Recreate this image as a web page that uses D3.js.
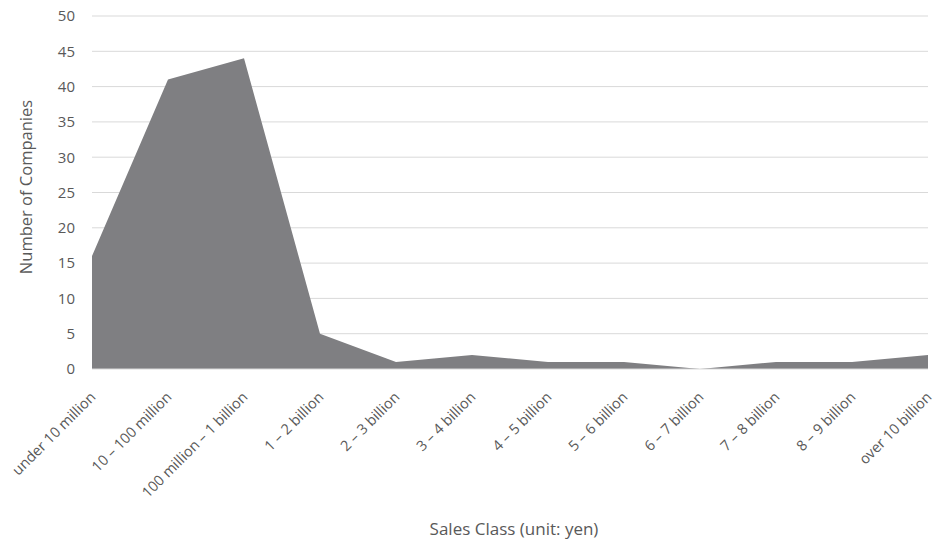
<!DOCTYPE html>
<html><head><meta charset="utf-8">
<script src="https://cdn.jsdelivr.net/npm/d3@7"></script>
<style>body{margin:0;background:#fff;} svg{display:block;}</style>
</head><body>
<svg id="c" width="934" height="543"></svg>
<script>
const categories = ["under 10 million","10 – 100 million","100 million – 1 billion","1 – 2 billion","2 – 3 billion","3 – 4 billion","4 – 5 billion","5 – 6 billion","6 – 7 billion","7 – 8 billion","8 – 9 billion","over 10 billion"];
const companies = [16, 41, 44, 5, 1, 2, 1, 1, 0, 1, 1, 2];
const yTicks = [0,5,10,15,20,25,30,35,40,45,50];
const xTitle = "Sales Class (unit: yen)";
const yTitle = "Number of Companies";

const svg = d3.select("#c");
const m = {left: 92, right: 6, top: 16, bottom: 174};
const W = 934, H = 543;
const x = d3.scalePoint().domain(categories).range([m.left, W - m.right]);
const y = d3.scaleLinear().domain([0, 50]).range([H - m.bottom, m.top]);
const font = "'Open Sans', 'Liberation Sans', sans-serif";

// gridlines
svg.append("g").selectAll("line").data(yTicks.filter(d => d > 0)).join("line")
  .attr("x1", m.left).attr("x2", W - m.right)
  .attr("y1", d => y(d)).attr("y2", d => y(d))
  .attr("stroke", "#d9d9d9").attr("stroke-width", 1);

// area
const area = d3.area().x((d, i) => x(categories[i])).y0(y(0)).y1(d => y(d));
svg.append("path").datum(companies).attr("d", area).attr("fill", "#7f7f82");

// baseline
svg.append("line").attr("x1", m.left).attr("x2", W - m.right)
  .attr("y1", y(0)).attr("y2", y(0)).attr("stroke", "#d9d9d9").attr("stroke-width", 1);

// y axis
const yAxis = d3.axisLeft(y).tickValues(yTicks).tickSize(0).tickPadding(0);
const gy = svg.append("g").attr("transform", `translate(75,0)`).call(yAxis);
gy.select(".domain").remove();
gy.selectAll("text").attr("font-family", font).attr("font-size", 15).attr("fill", "#595959")
  .attr("text-anchor", "end");

// x axis
const xAxis = d3.axisBottom(x).tickSize(0).tickPadding(0);
const gx = svg.append("g").attr("transform", `translate(0,${y(0)})`).call(xAxis);
gx.select(".domain").remove();
gx.selectAll("text").attr("font-family", font).attr("font-size", 14.5).attr("fill", "#595959")
  .attr("text-anchor", "end").attr("dy", 0)
  .attr("transform", "translate(4,29) rotate(-45)");

// titles
svg.append("text").attr("x", 514).attr("y", 535).attr("text-anchor", "middle")
  .attr("font-family", font).attr("font-size", 17).attr("fill", "#595959").text(xTitle);
svg.append("text").attr("transform", `translate(32,187) rotate(-90)`)
  .attr("text-anchor", "middle").attr("font-family", font).attr("font-size", 16.5)
  .attr("fill", "#595959").text(yTitle);
</script>
</body></html>
